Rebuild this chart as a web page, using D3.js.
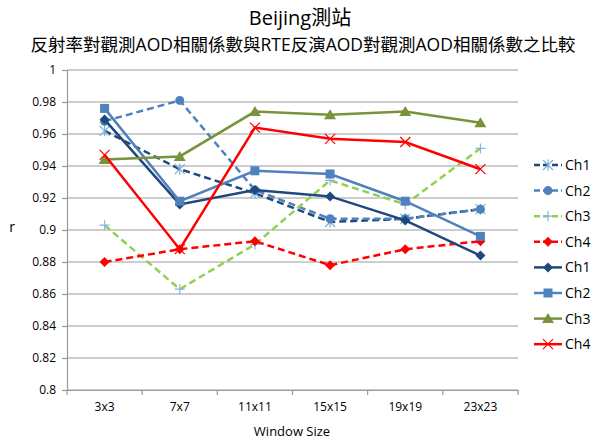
<!DOCTYPE html>
<html>
<head>
<meta charset="utf-8">
<script src="https://cdn.jsdelivr.net/npm/d3@7.9.0/dist/d3.min.js"></script>
<style>
  body { margin: 0; background: #fff; }
  text { font-family: "Open Sans", "Noto Sans CJK TC", sans-serif; fill: #000; }
</style>
</head>
<body>
<svg id="chart" width="593" height="441"></svg>
<script>
const windows = ['3x3', '7x7', '11x11', '15x15', '19x19', '23x23'];
const yTicks = [0.8, 0.82, 0.84, 0.86, 0.88, 0.9, 0.92, 0.94, 0.96, 0.98, 1];

// reflectance vs observed AOD (dashed)
const refCh1 = [0.962, 0.938, 0.923, 0.905, 0.907, 0.913];
const refCh2 = [0.968, 0.981, 0.925, 0.907, 0.907, 0.913];
const refCh3 = [0.903, 0.863, 0.891, 0.931, 0.916, 0.951];
const refCh4 = [0.880, 0.888, 0.893, 0.878, 0.888, 0.893];
// RTE retrieved AOD vs observed AOD (solid)
const rteCh1 = [0.969, 0.916, 0.925, 0.921, 0.906, 0.884];
const rteCh2 = [0.976, 0.918, 0.937, 0.935, 0.918, 0.896];
const rteCh3 = [0.944, 0.946, 0.974, 0.972, 0.974, 0.967];
const rteCh4 = [0.947, 0.888, 0.964, 0.957, 0.955, 0.938];

const series = [
  { name: 'Ch1', values: refCh1, color: '#1f497d', dash: '7,4', marker: 'asterisk', mcolor: '#7ab0d4' },
  { name: 'Ch2', values: refCh2, color: '#4f81bd', dash: '7,4', marker: 'circle', mcolor: '#4f81bd' },
  { name: 'Ch3', values: refCh3, color: '#92d050', dash: '7,4', marker: 'plus', mcolor: '#8db3e2' },
  { name: 'Ch4', values: refCh4, color: '#ff0000', dash: '7,4', marker: 'diamond', mcolor: '#ff0000' },
  { name: 'Ch1', values: rteCh1, color: '#1f497d', dash: null, marker: 'diamond', mcolor: '#1f497d' },
  { name: 'Ch2', values: rteCh2, color: '#4f81bd', dash: null, marker: 'square', mcolor: '#4f81bd' },
  { name: 'Ch3', values: rteCh3, color: '#77933c', dash: null, marker: 'triangle', mcolor: '#77933c' },
  { name: 'Ch4', values: rteCh4, color: '#ff0000', dash: null, marker: 'cross', mcolor: '#ff0000' }
];

const svg = d3.select('#chart');
const plotLeft = 67, plotRight = 518, plotTop = 70, plotBottom = 390;

const x = d3.scaleBand().domain(windows).range([plotLeft, plotRight]);
const y = d3.scaleLinear().domain([0.8, 1]).range([plotBottom, plotTop]);

// gridlines
svg.append('g').selectAll('line').data(yTicks).join('line')
  .attr('x1', plotLeft).attr('x2', plotRight)
  .attr('y1', d => y(d)).attr('y2', d => y(d))
  .attr('stroke', '#bdbdbd').attr('stroke-width', 1.5);

// y axis
const yAxis = svg.append('g').attr('transform', `translate(${plotLeft},0)`)
  .call(d3.axisLeft(y).tickValues(yTicks).tickSize(5).tickPadding(6)
    .tickFormat(d => d === 1 ? '1' : d3.format('.2f')(d).replace(/0$/, '')));
yAxis.selectAll('path, line').attr('stroke', '#9a9a9a').attr('stroke-width', 1.2);
yAxis.selectAll('text').style('font-size', '12px').style('font-family', '"Open Sans", sans-serif');

// x axis
const xAxis = svg.append('g').attr('transform', `translate(0,${plotBottom})`)
  .call(d3.axisBottom(x).tickSize(0).tickPadding(12));
xAxis.select('path').attr('stroke', '#9a9a9a').attr('stroke-width', 1.2);
xAxis.selectAll('text').style('font-size', '12px').style('font-family', '"Open Sans", sans-serif');
svg.append('g').selectAll('line').data(d3.range(windows.length + 1)).join('line')
  .attr('x1', i => plotLeft + i * x.step()).attr('x2', i => plotLeft + i * x.step())
  .attr('y1', plotBottom).attr('y2', plotBottom + 5)
  .attr('stroke', '#9a9a9a').attr('stroke-width', 1.2);

function drawMarker(g, type, color, cx, cy) {
  if (type === 'circle') {
    g.append('circle').attr('cx', cx).attr('cy', cy).attr('r', 4.5).attr('fill', color);
  } else if (type === 'square') {
    g.append('rect').attr('x', cx - 4.5).attr('y', cy - 4.5).attr('width', 9).attr('height', 9).attr('fill', color);
  } else if (type === 'diamond') {
    g.append('path').attr('d', `M${cx},${cy - 5}L${cx + 5},${cy}L${cx},${cy + 5}L${cx - 5},${cy}Z`).attr('fill', color);
  } else if (type === 'triangle') {
    g.append('path').attr('d', `M${cx},${cy - 5.5}L${cx + 6},${cy + 4.5}L${cx - 6},${cy + 4.5}Z`).attr('fill', color);
  } else if (type === 'cross') {
    g.append('path').attr('d', `M${cx - 5},${cy - 5}L${cx + 5},${cy + 5}M${cx + 5},${cy - 5}L${cx - 5},${cy + 5}`)
      .attr('stroke', color).attr('stroke-width', 1.2);
  } else if (type === 'plus') {
    g.append('path').attr('d', `M${cx - 5},${cy}L${cx + 5},${cy}M${cx},${cy - 5}L${cx},${cy + 5}`)
      .attr('stroke', color).attr('stroke-width', 1.2);
  } else if (type === 'asterisk') {
    g.append('path').attr('d', `M${cx - 5},${cy - 5}L${cx + 5},${cy + 5}M${cx + 5},${cy - 5}L${cx - 5},${cy + 5}M${cx},${cy - 5.5}L${cx},${cy + 5.5}`)
      .attr('stroke', color).attr('stroke-width', 1.2);
  }
}

const line = d3.line()
  .x((d, i) => x(windows[i]) + x.bandwidth() / 2)
  .y(d => y(d));

series.forEach(s => {
  const g = svg.append('g');
  g.append('path').datum(s.values)
    .attr('d', line).attr('fill', 'none')
    .attr('stroke', s.color).attr('stroke-width', 2.5)
    .attr('stroke-dasharray', s.dash);
  s.values.forEach((v, i) => drawMarker(g, s.marker, s.mcolor, x(windows[i]) + x.bandwidth() / 2, y(v)));
});

// legend
const legend = svg.append('g');
series.forEach((s, i) => {
  const ly = 165 + i * 25.6;
  const g = legend.append('g');
  g.append('line').attr('x1', 534).attr('x2', 562).attr('y1', ly).attr('y2', ly)
    .attr('stroke', s.color).attr('stroke-width', 2.5).attr('stroke-dasharray', s.dash ? '6,3' : null);
  drawMarker(g, s.marker, s.mcolor, 548, ly);
  g.append('text').attr('x', 565).attr('y', ly + 5).style('font-size', '14px').text(s.name);
});

// titles
svg.append('text').attr('x', 300).attr('y', 25).attr('text-anchor', 'middle')
  .style('font-size', '20px').text('Beijing測站');
svg.append('text').attr('x', 303).attr('y', 51).attr('text-anchor', 'middle')
  .style('font-size', '17.5px').text('反射率對觀測AOD相關係數與RTE反演AOD對觀測AOD相關係數之比較');
svg.append('text').attr('x', 292).attr('y', 436).attr('text-anchor', 'middle')
  .style('font-size', '13px').text('Window Size');
svg.append('text').attr('x', 12).attr('y', 232).attr('text-anchor', 'middle')
  .style('font-size', '14px').text('r');
</script>
</body>
</html>
